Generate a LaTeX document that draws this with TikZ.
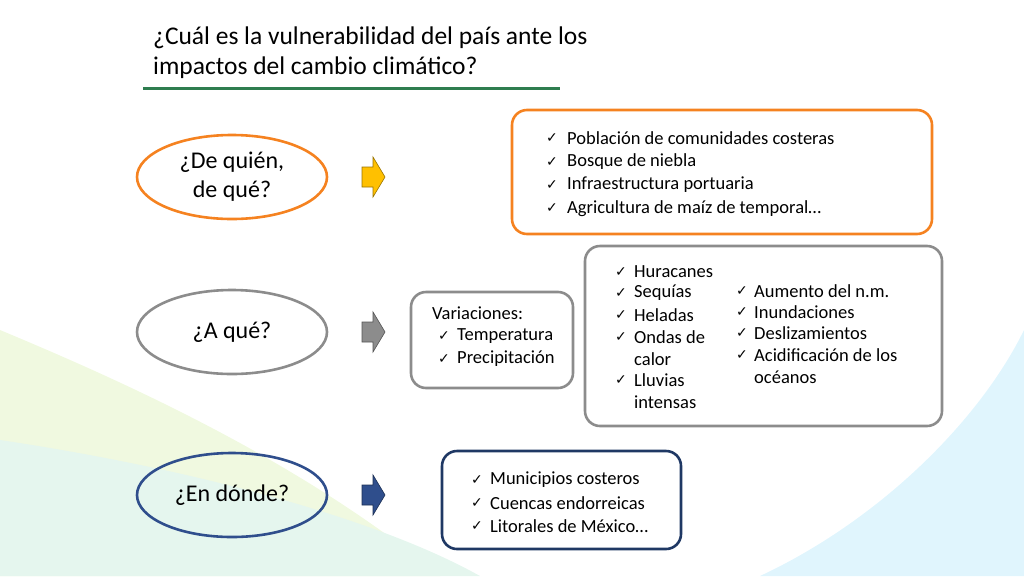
\documentclass[tikz,border=0pt]{standalone}
\usepackage{fontspec}
\setmainfont{Carlito}
\newfontfamily\sym{DejaVu Sans}
\definecolor{org}{HTML}{F58220}
\definecolor{gry}{HTML}{8C8C8C}
\definecolor{blu}{HTML}{2F4E8C}
\definecolor{nav}{HTML}{1F3864}
\definecolor{grn}{HTML}{2E7D4F}
\definecolor{yel}{HTML}{FFC000}
\newcommand{\ck}{{\sym\fontsize{14}{14}\selectfont ✓}}
\tikzset{
 ell/.style={ellipse,draw,line width=2.6pt,minimum width=190pt,minimum height=84pt,align=center,font=\fontsize{24}{29}\selectfont},
 rbox/.style={draw,line width=2.6pt,rounded corners=15pt,anchor=north west},
 item/.style={anchor=west,inner sep=0pt,font=\fontsize{18.5}{20}\selectfont},
 chk/.style={anchor=west,inner sep=0pt},
}
\usetikzlibrary{shapes.geometric}
\begin{document}
\begin{tikzpicture}[x=1pt,y=-1pt]
\useasboundingbox (0,0) rectangle (1024,576);
% background
\fill[yellow!50!green!12] (0,330) .. controls (120,380) and (300,460) .. (440,576) -- (0,576) -- cycle;
\fill[green!30!teal!10] (0,440) .. controls (200,470) and (380,520) .. (480,576) -- (0,576) -- cycle;
\fill[cyan!12] (1024,330) .. controls (980,420) and (880,520) .. (760,576) -- (1024,576) -- cycle;
% title
\node[anchor=north west,align=left,inner sep=0pt,font=\fontsize{25.5}{30}\selectfont] (title) at (153,27) {¿Cuál es la vulnerabilidad del país ante los\\impactos del cambio climático?};
\draw[grn,line width=3pt] (143,88) -- (560,88);
% ellipses
\node[ell,draw=org] (e1) at (232,177) {¿De quién,\\ de qué?};
\node[ell,draw=gry] (e2) at (232,332) {¿A qué?};
\node[ell,draw=blu] (e3) at (232,495) {¿En dónde?};
% arrows
\foreach \y/\c in {177/yel,332/gry,495/blu}{
 \filldraw[fill=\c,draw=\c!60!black,line width=0.6pt] (362,\y-10) -- (373,\y-10) -- (373,\y-20) -- (385,\y) -- (373,\y+20) -- (373,\y+10) -- (362,\y+10) -- cycle;}
% boxes
\draw[rbox,draw=org] (512,110) rectangle (932,234);
\foreach \t [count=\i] in {Población de comunidades costeras,Bosque de niebla,Infraestructura portuaria,Agricultura de maíz de temporal…}{
 \node[chk] at (546,115+23.3*\i) {\ck}; \node[item] at (567,115+23.3*\i) {\t};}
\draw[rbox,draw=gry] (411,292) rectangle (573,388);
\node[item] at (432,313) {Variaciones:};
\node[chk] at (438,336) {\ck}; \node[item] at (457,336) {Temperatura};
\node[chk] at (438,359) {\ck}; \node[item] at (457,359) {Precipitación};
\draw[rbox,draw=gry] (585,246) rectangle (942,426);
\foreach \y/\t/\c in {272/Huracanes/1,293/Sequías/1,315/Heladas/1,337/Ondas de/1,359/calor/0,380/Lluvias/1,402/intensas/0}{
 \ifnum\c=1 \node[chk] at (615,\y) {\ck};\fi \node[item] at (634,\y) {\t};}
\foreach \y/\t/\c in {291/Aumento del n.m./1,312/Inundaciones/1,333/Deslizamientos/1,355/Acidificación de los/1,377/océanos/0}{
 \ifnum\c=1 \node[chk] at (736,\y) {\ck};\fi \node[item] at (754,\y) {\t};}
\draw[rbox,draw=nav] (442,451) rectangle (681,549);
\foreach \t [count=\i] in {Municipios costeros,Cuencas endorreicas,Litorales de México…}{
 \node[chk] at (471,457+23*\i) {\ck}; \node[item] at (490,457+23*\i) {\t};}
\end{tikzpicture}
\end{document}
